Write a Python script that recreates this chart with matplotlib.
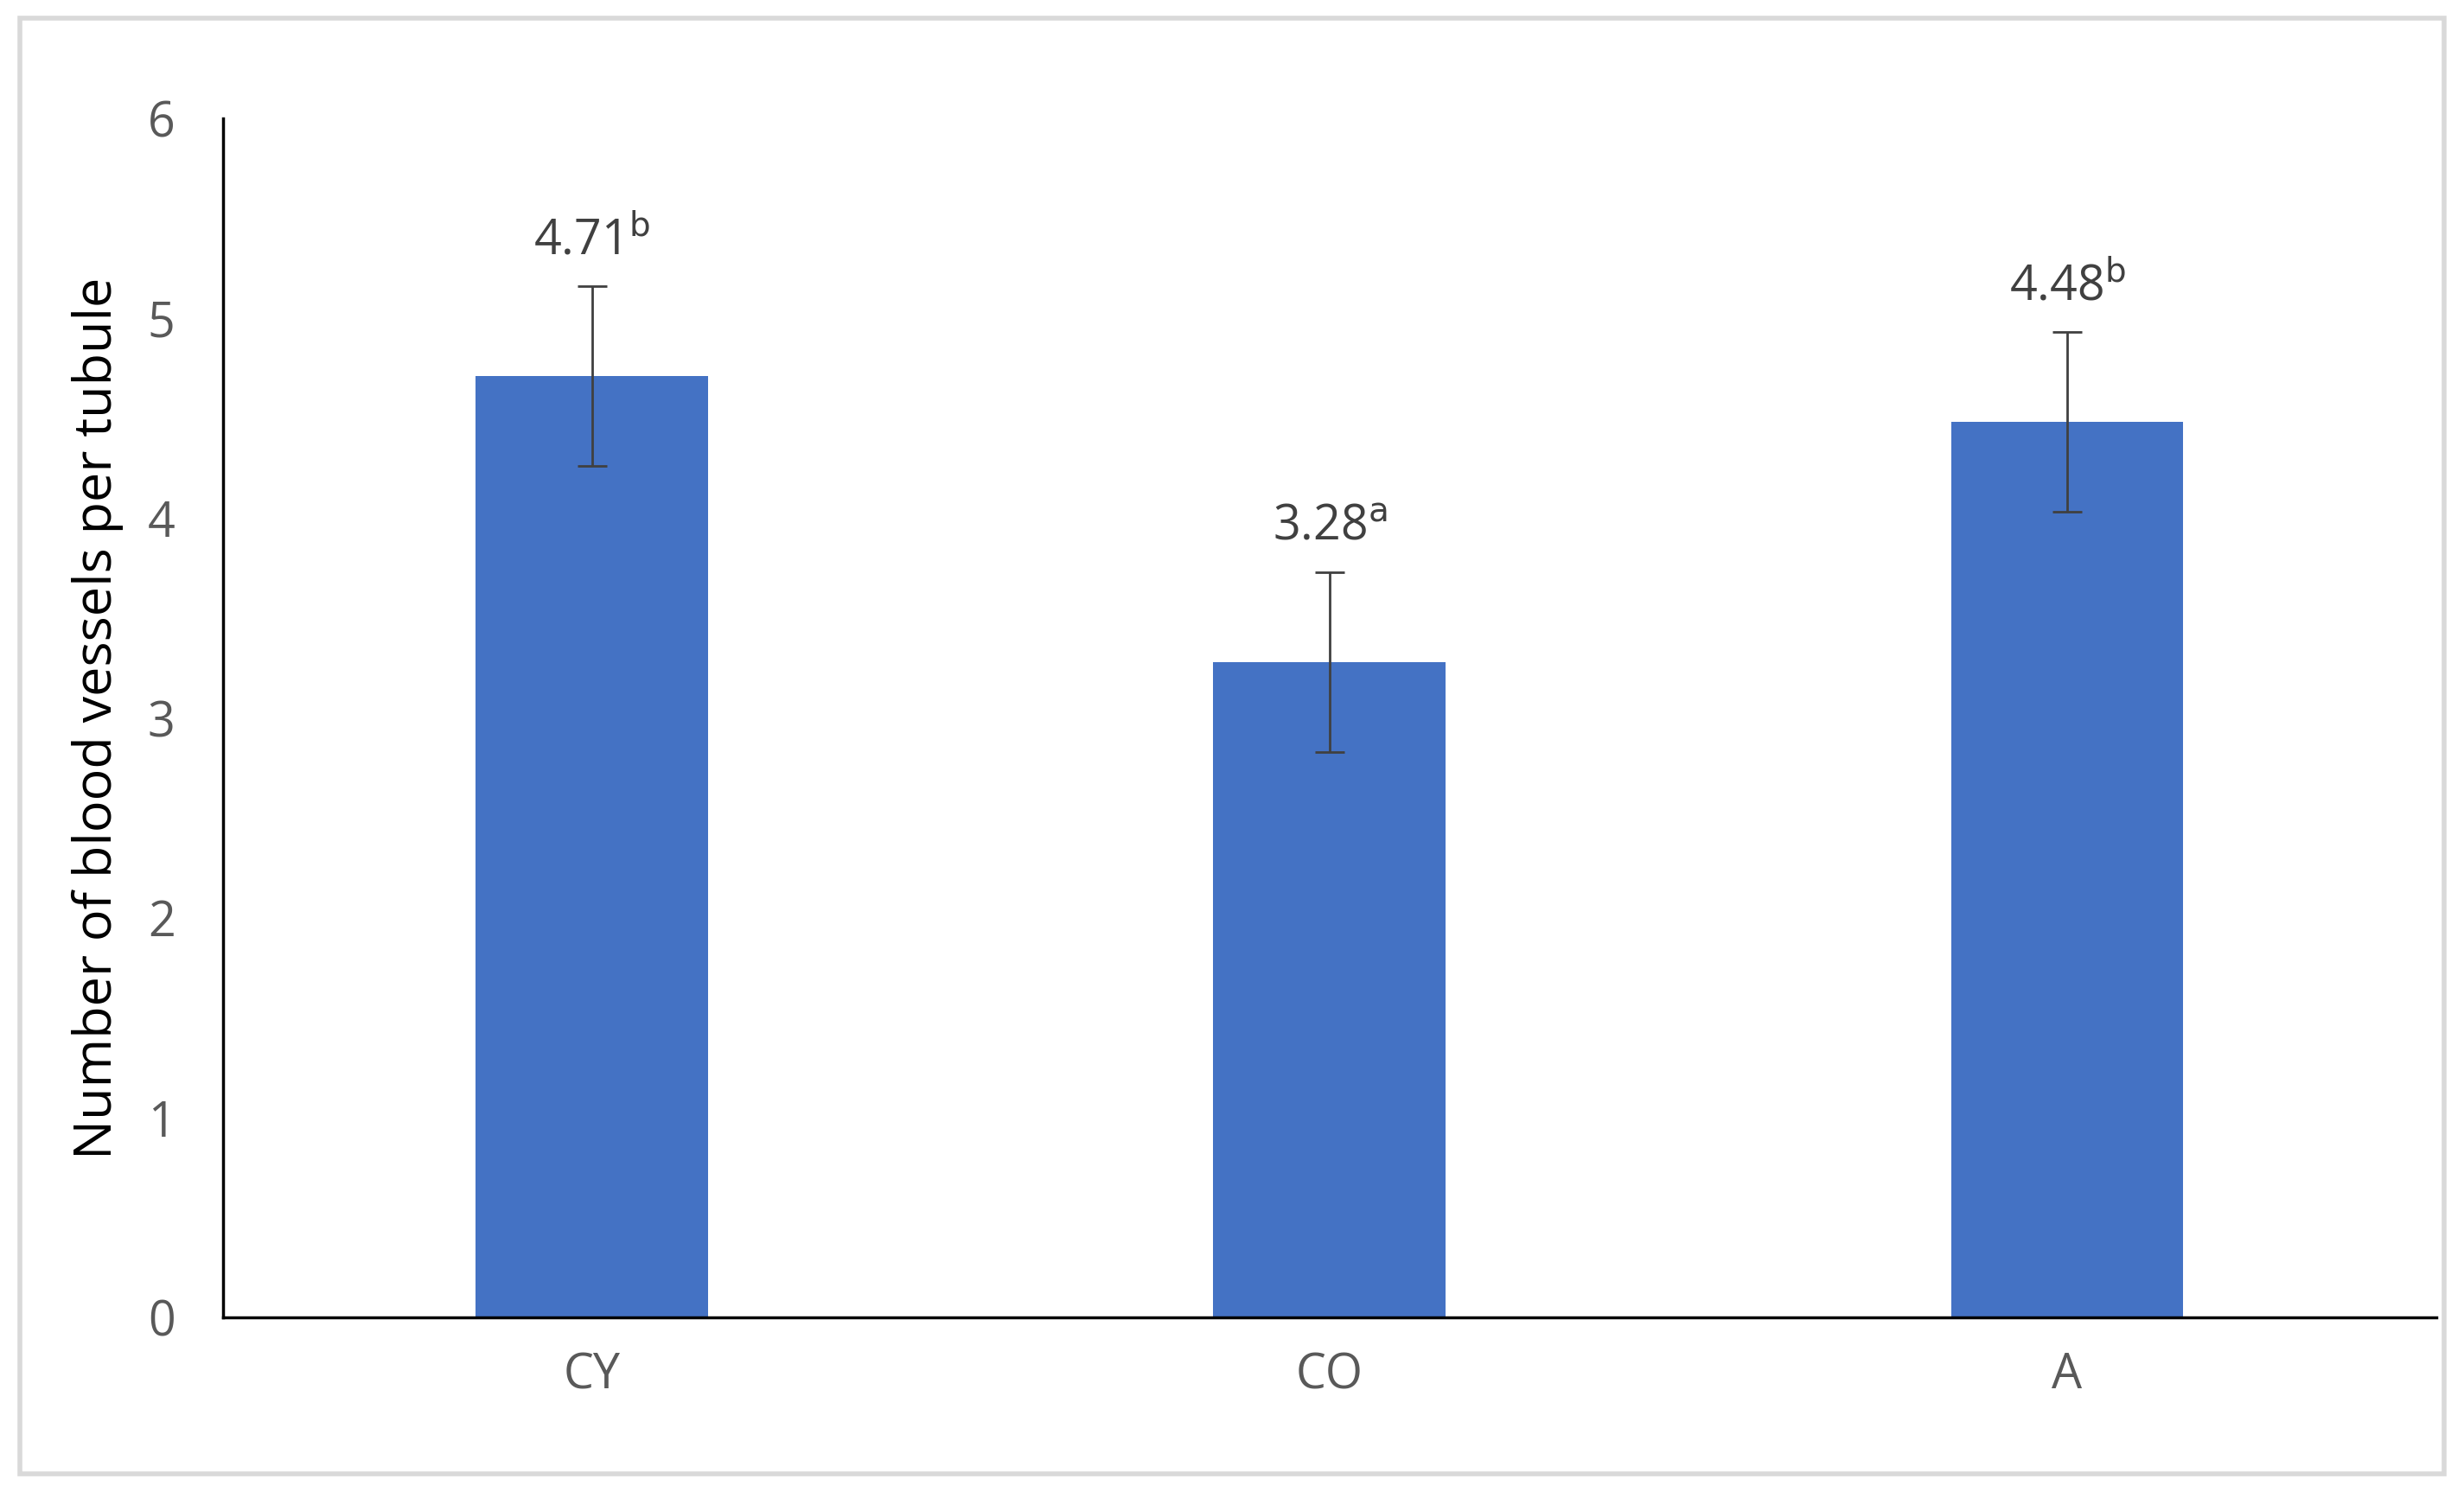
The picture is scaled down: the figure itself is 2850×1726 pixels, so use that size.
import matplotlib
matplotlib.use("Agg")
import matplotlib.pyplot as plt
from matplotlib.patches import Rectangle

categories = ["CY", "CO", "A"]
values = [4.71, 3.28, 4.48]
errors = [0.45, 0.45, 0.45]
letters = ["b", "a", "b"]
yticks = [0, 1, 2, 3, 4, 5, 6]

plt.rcParams['font.family'] = ['Open Sans', 'DejaVu Sans']
fig = plt.figure(figsize=(28.5, 17.26), dpi=100)
fig.patches.append(Rectangle((0.008, 0.012), 0.984, 0.976, transform=fig.transFigure,
                             fill=False, edgecolor="#d9d9d9", linewidth=4))
ax = fig.add_axes([0.0906, 0.1168, 0.898, 0.804])
x = range(len(categories))
ax.bar(x, values, width=0.315, color="#4472C4", zorder=2)
ax.errorbar(x, values, yerr=errors, fmt="none", ecolor="#404040", elinewidth=2,
            capsize=12, capthick=2, zorder=3)
for i, (v, e, l) in enumerate(zip(values, errors, letters)):
    ax.text(i, v + e + 0.1, f"{v:.2f}$^{{\\mathrm{{{l}}}}}$", ha="center", va="bottom",
            fontsize=40, color="#404040")
ax.set_xlim(-0.5, 2.5)
ax.set_ylim(0, 6)
ax.set_yticks(yticks)
ax.set_xticks(list(x))
ax.set_xticklabels(categories)
ax.tick_params(length=0, labelsize=40, labelcolor="#595959", pad=28)
ax.tick_params(axis="y", pad=40)
for s in ["top", "right"]:
    ax.spines[s].set_visible(False)
for s in ["left", "bottom"]:
    ax.spines[s].set_linewidth(2.5)
    ax.spines[s].set_color("black")
ax.set_ylabel("Number of blood vessels per tubule", fontsize=44, color="black", labelpad=20)
fig.savefig("out.png", dpi=100)
